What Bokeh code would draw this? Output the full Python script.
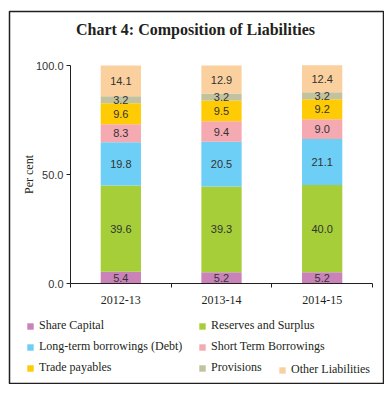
from bokeh.plotting import figure
from bokeh.models import (ColumnDataSource, FixedTicker, Legend, LegendItem, Label,
                          NumeralTickFormatter, Range1d)
from bokeh.core.properties import value
from bokeh.embed import file_html
from bokeh.resources import INLINE
import numpy as np

# ---- data ----
years = ["2012-13", "2013-14", "2014-15"]
series = ["Share Capital", "Reserves and Surplus", "Long-term borrowings (Debt)",
          "Short Term Borrowings", "Trade payables", "Provisions", "Other Liabilities"]
share_capital = [5.4, 5.2, 5.2]
reserves_surplus = [39.6, 39.3, 40.0]
long_term_borrowings = [19.8, 20.5, 21.1]
short_term_borrowings = [8.3, 9.4, 9.0]
trade_payables = [9.6, 9.5, 9.2]
provisions = [3.2, 3.2, 3.2]
other_liabilities = [14.1, 12.9, 12.4]
y_ticks = [0, 50, 100]

colors = ["#C983B8", "#A6CE39", "#6DCFF6", "#F5A9B1", "#FFCB05", "#C2C29E", "#FBD09F"]
values = [share_capital, reserves_surplus, long_term_borrowings, short_term_borrowings,
          trade_payables, provisions, other_liabilities]

# ---- layout (pixels, frame == bordered box) ----
W, H = 384, 384
BL, BR, BT, BB = 9, 1, 11, 1         # min borders around the frame
FW, FH = W - BL - BR, H - BT - BB    # frame size
AX_L, AX_R = 61, 363                 # plot-area x extent inside frame (px from frame left)
AX_T, AX_B = 54, 272                 # plot-area y extent inside frame (px from frame top)

n = len(years)
ppx = (AX_R - AX_L) / n
ppy = (AX_B - AX_T) / 100.0
x_range = Range1d(-AX_L / ppx, n + (FW - AX_R) / ppx)
y_range = Range1d(-(FH - AX_B) / ppy, 100 + AX_T / ppy)

xpos = [i + 0.5 for i in range(n)]
data = {"x": xpos}
keys = []
for i, v in enumerate(values):
    k = f"s{i}"
    keys.append(k)
    data[k] = v
source = ColumnDataSource(data)

SERIF = "Liberation Serif"
SANS = "Liberation Sans"
INK = "#231F20"

p = figure(width=W, height=H, output_backend="svg", toolbar_location=None,
           x_range=x_range, y_range=y_range,
           min_border_left=BL, min_border_right=BR, min_border_top=BT, min_border_bottom=BB)
p.outline_line_color = INK
p.outline_line_width = 1.5
p.xgrid.grid_line_color = None
p.ygrid.grid_line_color = None

renderers = p.vbar_stack(keys, x="x", width=0.4, color=colors, source=source, line_color=None)

# segment labels
arr = np.array(values)
cum = np.cumsum(arr, axis=0)
mids = cum - arr / 2
lx, ly, lt = [], [], []
for i in range(arr.shape[0]):
    for j in range(arr.shape[1]):
        lx.append(xpos[j]); ly.append(mids[i, j]); lt.append(f"{values[i][j]:.1f}")
p.text(x=lx, y=ly, text=lt, text_align="center", text_baseline="middle",
       text_font=value(SANS), text_font_size="11px", text_color="#333333")

# axes
p.xaxis.fixed_location = 0
p.xaxis.bounds = (0, n)
p.xaxis.ticker = FixedTicker(ticks=xpos, minor_ticks=list(range(n + 1)))
p.xaxis.major_label_overrides = {x: y for x, y in zip(xpos, years)}
p.xaxis.major_tick_line_color = None
p.xaxis.minor_tick_out = 4
p.xaxis.minor_tick_in = 0
p.xaxis.minor_tick_line_color = INK
p.xaxis.major_label_text_font = SERIF
p.xaxis.major_label_text_font_size = "12px"
p.xaxis.major_label_text_color = INK
p.xaxis.major_label_standoff = 6
p.xaxis.axis_line_color = INK

p.yaxis.fixed_location = 0
p.yaxis.bounds = (0, 100)
p.yaxis.ticker = FixedTicker(ticks=y_ticks, minor_ticks=[])
p.yaxis.formatter = NumeralTickFormatter(format="0.0")
p.yaxis.major_tick_out = 4
p.yaxis.major_tick_in = 0
p.yaxis.major_tick_line_color = INK
p.yaxis.major_label_text_font = SANS
p.yaxis.major_label_text_font_size = "11px"
p.yaxis.major_label_text_color = "#333333"
p.yaxis.major_label_standoff = 3
p.yaxis.axis_line_color = INK
p.yaxis.axis_label = "Per cent"
p.yaxis.axis_label_text_font = SERIF
p.yaxis.axis_label_text_font_style = "normal"
p.yaxis.axis_label_text_font_size = "12px"
p.yaxis.axis_label_text_color = INK
p.yaxis.axis_label_standoff = -3

# title (screen px from frame bottom-left)
p.add_layout(Label(x=186, y=FH - 18, x_units="screen", y_units="screen",
                   text="Chart 4: Composition of Liabilities", text_align="center",
                   text_baseline="middle", text_font=SERIF, text_font_style="bold",
                   text_font_size="16px", text_color=INK))

# legends
def make_legend(idx, loc):
    lg = Legend(items=[LegendItem(label=series[i], renderers=[renderers[i]]) for i in idx],
                location=loc, orientation="vertical", padding=0, margin=0,
                spacing=6, glyph_width=8, glyph_height=8, label_height=14,
                label_standoff=5, border_line_color=None, background_fill_alpha=0,
                label_text_font=SERIF, label_text_font_size="12px", label_text_color=INK)
    p.add_layout(lg, "center")

make_legend([0, 2, 4], (17, 8))
make_legend([1, 3, 5], (189, 8))
make_legend([6], (269, 6))

open("out.html", "w").write(file_html(p, INLINE))
